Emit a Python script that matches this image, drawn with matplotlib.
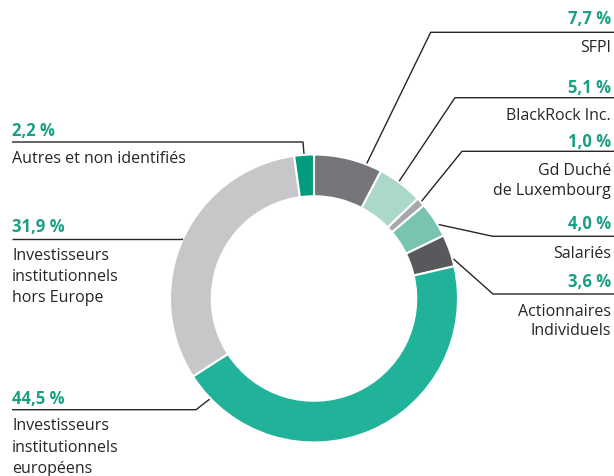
import matplotlib.pyplot as plt
import numpy as np

# shareholding structure (clockwise from 12 o'clock)
values = [7.7, 5.1, 1.0, 4.0, 3.6, 44.5, 31.9, 2.2]
pct_labels = ["7,7 %", "5,1 %", "1,0 %", "4,0 %", "3,6 %", "44,5 %", "31,9 %", "2,2 %"]
names = [
    "SFPI",
    "BlackRock Inc.",
    "Gd Duché\nde Luxembourg",
    "Salariés",
    "Actionnaires\nIndividuels",
    "Investisseurs\ninstitutionnels\neuropéens",
    "Investisseurs\ninstitutionnels\nhors Europe",
    "Autres et non identifiés",
]
colors = ["#75767a", "#abd8cb", "#a7a8ab", "#79c3b1", "#58595c", "#21b29a", "#c6c7c9", "#009c7e"]

W, H = 614, 477
CX, CY, R = 314, 299.5, 144
RING = 0.29 * R

plt.rcParams["font.family"] = ["Open Sans", "DejaVu Sans"]
TEAL = "#1b9e84"
DARK = "#262626"

fig = plt.figure(figsize=(W / 100, H / 100), dpi=100)
ax = fig.add_axes([0, 0, 1, 1])

# y axis runs downward (pixel-like layout), so counterclock=True reads clockwise on screen
wedges, _ = ax.pie(values, colors=colors, startangle=-90, counterclock=True,
                   center=(CX, CY), radius=R,
                   wedgeprops=dict(width=RING, edgecolor="white", linewidth=1.5))
ax.set_xlim(0, W)
ax.set_ylim(H, 0)
ax.set_aspect("equal")
ax.axis("off")

# label layout: where along each wedge the leader starts, elbow, text placement
anchor_frac = [0.77, 0.45, 0.5, 0.67, 0.78, 0.93, 0.5, 0.5]
side = ["r", "r", "r", "r", "r", "l", "l", "l"]
line_y = [33.3, 98.7, 152.3, 237.3, 295, 410.7, 240.3, 143]
elbow_x = [430.7, 455, 462, 492.7, 493, 196, None, 303]
pct_y = [19.5, 88, 142.5, 224.5, 282.5, 399, 227.5, 131]
name_y = [39.5, 108.5, 163.5, 245.5, 304.5, 418.5, 247.5, 151]
name_ls = [1.28, 1.28, 1.28, 1.28, 1.25, 1.42, 1.42, 1.3]

for w, f, s, ly, ex, py, ny, ls, pl, nm in zip(wedges, anchor_frac, side, line_y, elbow_x,
                                              pct_y, name_y, name_ls, pct_labels, names):
    th = np.radians(w.theta1 + f * (w.theta2 - w.theta1))
    ax_, ay_ = CX + (R + 1) * np.cos(th), CY + (R + 1) * np.sin(th)
    if ex is None:
        ex = ax_
    end_x = W if s == "r" else 12
    ax.plot([ax_, ex, end_x], [ay_, ly, ly], color=DARK, lw=1.0, solid_capstyle="butt")
    tx = 611 if s == "r" else 12
    ha = "right" if s == "r" else "left"
    ax.text(tx, py, pl, ha=ha, va="center", color=TEAL, fontsize=12, fontweight="bold")
    ax.text(tx, ny, nm, ha=ha, va="top", color=DARK, fontsize=11.5, linespacing=ls,
            multialignment=ha)

plt.savefig("out.png", dpi=100)
